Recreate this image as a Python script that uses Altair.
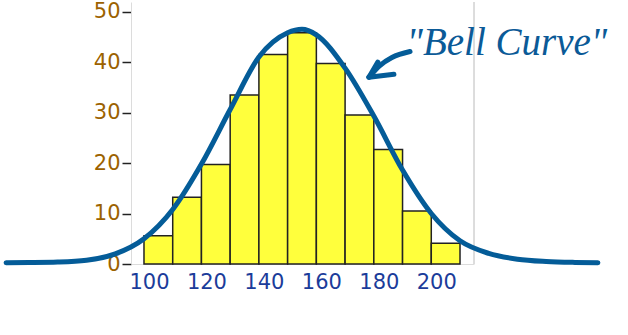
import altair as alt
import pandas as pd

# Histogram bins (left edges, width 10) and counts
bin_start = [100, 110, 120, 130, 140, 150, 160, 170, 180, 190, 200]
bin_end = [110, 120, 130, 140, 150, 160, 170, 180, 190, 200, 210]
counts = [5.6, 13.2, 19.7, 33.5, 41.5, 45.8, 39.7, 29.5, 22.7, 10.5, 4.1]

# Bell curve points
curve_x = [52, 60, 70, 80, 90, 100, 110, 120, 130, 140, 150, 155, 160, 170, 180, 190, 200, 210, 220, 230, 240, 250, 258]
curve_y = [0.25, 0.28, 0.38, 0.75, 2.0, 5.0, 10.8, 19.8, 30.6, 41.0, 45.8, 46.5, 45.4, 38.8, 29.3, 18.6, 10.0, 4.6, 2.1, 0.95, 0.5, 0.32, 0.26]

# Annotation arrow (shaft and two barbs) in data units
arrow_part = ["shaft", "shaft", "shaft", "shaft", "barb1", "barb1", "barb2", "barb2"]
arrow_order = [0, 1, 2, 3, 0, 1, 0, 1]
arrow_x = [192.6, 186.3, 182.1, 178.3, 181.4, 178.3, 187.0, 178.3]
arrow_y = [42.1, 40.9, 39.3, 37.0, 40.0, 37.0, 37.6, 37.0]

label_text = ['"Bell Curve"']
label_x = [191.4]
label_y = [41.4]

x_ticks = [100, 120, 140, 160, 180, 200]
y_ticks = [0, 10, 20, 30, 40, 50]

X_DOMAIN = [95.48, 214.87]
Y_DOMAIN = [0, 51.9]

bars_df = pd.DataFrame({"start": bin_start, "end": bin_end, "count": counts})
curve_df = pd.DataFrame({"x": curve_x, "y": curve_y})
arrow_df = pd.DataFrame({"part": arrow_part, "order": arrow_order, "x": arrow_x, "y": arrow_y})
label_df = pd.DataFrame({"text": label_text, "x": label_x, "y": label_y})

xscale = alt.Scale(domain=X_DOMAIN, nice=False, zero=False)
yscale = alt.Scale(domain=Y_DOMAIN, nice=False, zero=False)

xaxis = alt.Axis(
    values=x_ticks, ticks=False, grid=False, title=None,
    labelFont="DejaVu Sans", labelFontSize=21, labelColor="#1B3C9A",
    labelPadding=7, labelOffset=5, labelFlush=False, labelOverlap=False,
    domainColor="#dcdcdc", domainWidth=1,
)
yaxis = alt.Axis(
    values=y_ticks, grid=False, title=None,
    labelFont="DejaVu Sans", labelFontSize=21, labelColor="#9C6200",
    labelPadding=2, tickSize=9, tickWidth=1.5, tickColor="#222222",
    domainColor="#dcdcdc", domainWidth=1,
)

bars = alt.Chart(bars_df).mark_rect(
    fill="#FFFF3C", stroke="#222222", strokeWidth=1.5
).encode(
    x=alt.X("start:Q", scale=xscale, axis=xaxis),
    x2="end:Q",
    y=alt.Y("count:Q", scale=yscale, axis=yaxis),
    y2=alt.datum(0),
)

right_border = alt.Chart(bars_df).mark_rule(color="#dcdcdc", strokeWidth=1).encode(
    x=alt.datum(X_DOMAIN[1])
)

curve = alt.Chart(curve_df).mark_line(
    color="#045C98", strokeWidth=5, interpolate="monotone", strokeCap="round"
).encode(
    x=alt.X("x:Q", scale=xscale),
    y=alt.Y("y:Q", scale=yscale),
)

arrow = alt.Chart(arrow_df).mark_line(
    color="#045C98", strokeWidth=5, strokeCap="round", strokeJoin="round", interpolate="monotone"
).encode(
    x=alt.X("x:Q", scale=xscale),
    y=alt.Y("y:Q", scale=yscale),
    detail="part:N",
    order="order:Q",
)

label = alt.Chart(label_df).mark_text(
    font="Liberation Serif", fontStyle="italic", fontSize=39,
    color="#0B5A97", align="left", baseline="alphabetic"
).encode(
    x=alt.X("x:Q", scale=xscale),
    y=alt.Y("y:Q", scale=yscale),
    text="text:N",
)

chart = alt.layer(right_border, bars, curve, arrow, label).properties(
    width=343,
    height=262,
    autosize=alt.AutoSizeParams(type="none"),
    padding={"left": 131, "top": 2, "right": 154, "bottom": 71},
    background="white",
).configure_view(stroke=None)

chart.save("out.html", embed_options={"renderer": "svg", "actions": False})
